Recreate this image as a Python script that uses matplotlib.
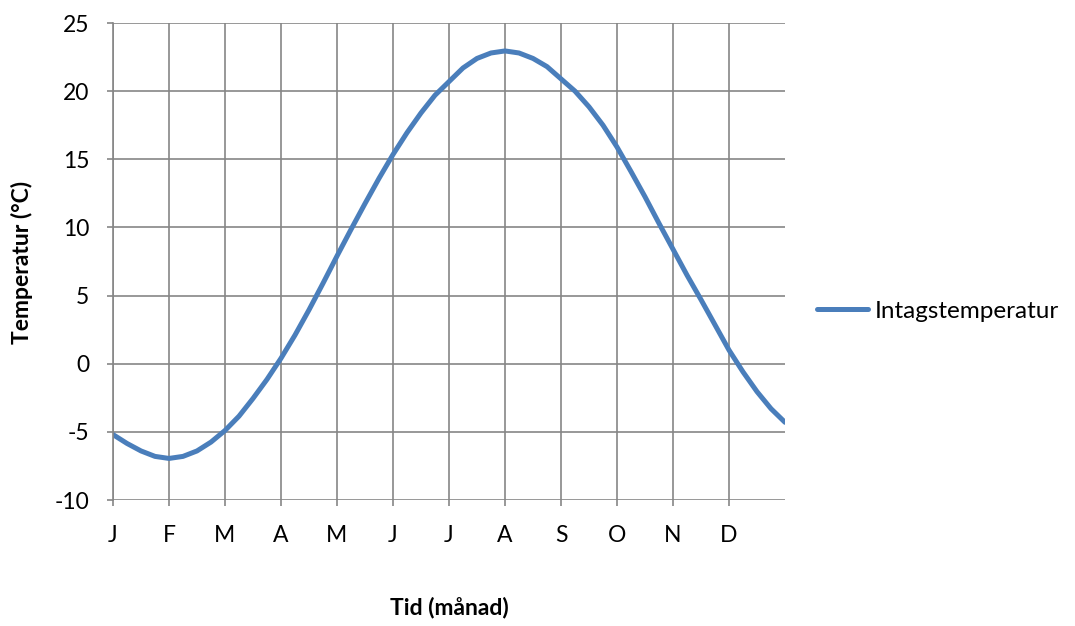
import matplotlib.pyplot as plt

# Intake temperature over the year, read every quarter month (0 = start of January)
months = [0, 0.25, 0.5, 0.75, 1, 1.25, 1.5, 1.75, 2, 2.25, 2.5, 2.75,
          3, 3.25, 3.5, 3.75, 4, 4.25, 4.5, 4.75, 5, 5.25, 5.5, 5.75,
          6, 6.25, 6.5, 6.75, 7, 7.25, 7.5, 7.75, 8, 8.25, 8.5, 8.75,
          9, 9.25, 9.5, 9.75, 10, 10.25, 10.5, 10.75, 11, 11.25, 11.5, 11.75, 12]
temperature = [-5.2, -5.85, -6.4, -6.8, -6.95, -6.8, -6.4, -5.75, -4.9, -3.85, -2.55, -1.15,
               0.4, 2.1, 3.95, 5.9, 7.9, 9.85, 11.75, 13.6, 15.35, 16.95, 18.4, 19.7,
               20.7, 21.7, 22.4, 22.8, 22.95, 22.8, 22.4, 21.8, 20.9, 20.0, 18.85, 17.5,
               15.9, 14.1, 12.25, 10.3, 8.4, 6.5, 4.7, 2.85, 1.0, -0.6, -2.05, -3.3, -4.3]
month_labels = ["J", "F", "M", "A", "M", "J", "J", "A", "S", "O", "N", "D"]
y_ticks = [-10, -5, 0, 5, 10, 15, 20, 25]

plt.rcParams['font.family'] = ['Lato', 'DejaVu Sans']
plt.rcParams['axes.unicode_minus'] = False
grid_color = "#868686"
line_color = "#4a7ebb"
fs = 16.5

fig = plt.figure(figsize=(10.75, 6.26), dpi=100)
ax = fig.add_axes([113 / 1075, 1 - 500 / 626, 672 / 1075, 477 / 626])

ax.plot(months, temperature, color=line_color, linewidth=3.6,
        solid_capstyle="round", solid_joinstyle="round", label="Intagstemperatur")

ax.set_xlim(0, 12)
ax.set_ylim(-10, 25)
ax.set_xticks(range(12))
ax.set_xticklabels(month_labels)
ax.set_yticks(y_ticks)

ax.grid(True, color=grid_color, linewidth=1.2)
ax.set_axisbelow(True)
for side in ["top", "right", "bottom"]:
    ax.spines[side].set_visible(False)
ax.spines["left"].set_color(grid_color)
ax.spines["left"].set_linewidth(1.2)

ax.tick_params(axis="both", colors=grid_color, labelcolor="black",
               labelsize=fs, length=4, width=1.2)
ax.tick_params(axis="y", pad=13)
ax.tick_params(axis="x", pad=14)

# axis titles placed in figure pixels
fig.text(449 / 1075, 1 - 607 / 626, "Tid (månad)", fontsize=fs, fontweight="bold",
         ha="center", va="center")
fig.text(22 / 1075, 1 - 262 / 626, "Temperatur (°C)", fontsize=fs, fontweight="bold",
         ha="center", va="center", rotation=90)

fig.legend(loc="center left", bbox_to_anchor=(795 / 1075, 1 - 311 / 626),
           frameon=False, fontsize=17.5, handlelength=2.1, handletextpad=0.3)

fig.savefig("out.png", dpi=100)
